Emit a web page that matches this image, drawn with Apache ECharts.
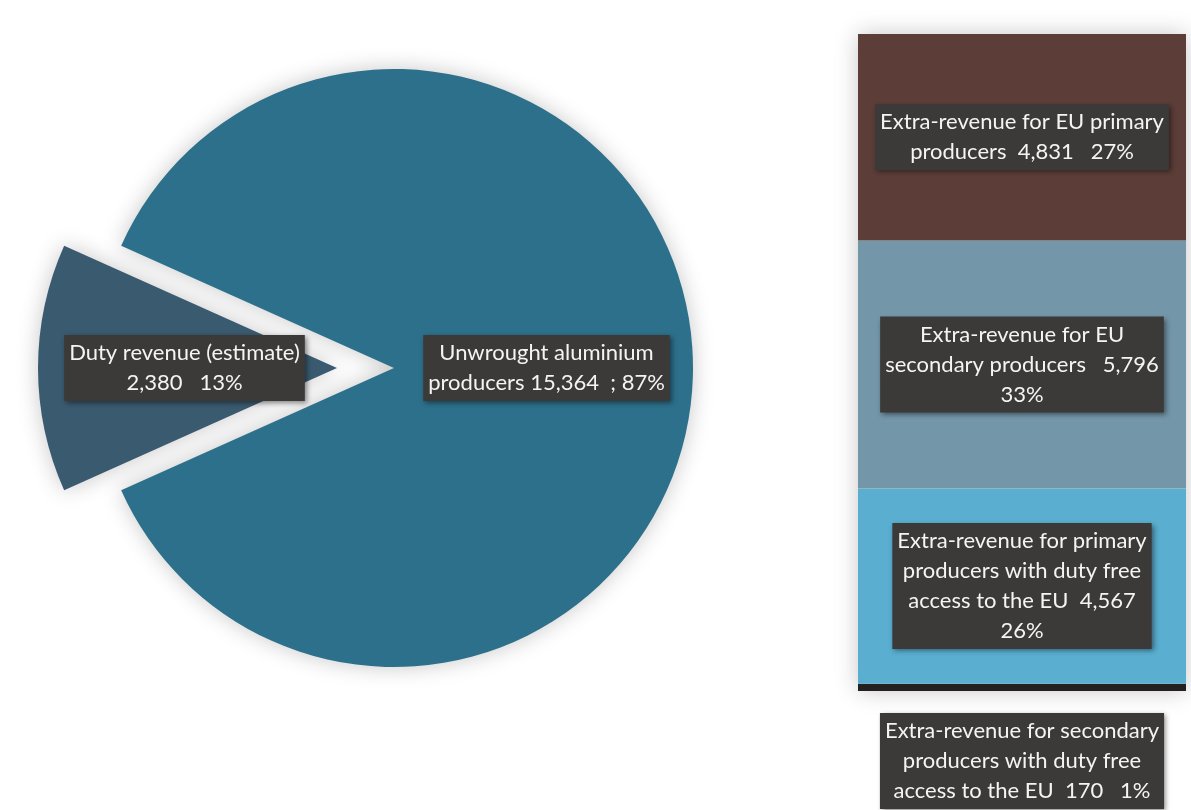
<!DOCTYPE html>
<html>
<head>
<meta charset="utf-8">
<script src="https://cdn.jsdelivr.net/npm/echarts@6/dist/echarts.min.js"></script>
<style>
  html, body { margin: 0; padding: 0; background: #fff; }
  #main { width: 1191px; height: 810px; }
</style>
</head>
<body>
<div id="main"></div>
<script>
// pie: where the money goes
var pieNames = ['Duty revenue (estimate)', 'Unwrought aluminium producers'];
var pieValues = [2380, 15364];
var pieColors = ['#3a5a70', '#2d708b'];

// column: split of the producers' extra revenue (bottom to top)
var barNames = [
    'Extra-revenue for secondary producers with duty free access to the EU',
    'Extra-revenue for primary producers with duty free access to the EU',
    'Extra-revenue for EU secondary producers',
    'Extra-revenue for EU primary producers'
];
var barValues = [170, 4567, 5796, 4831];
var barColors = ['#24201f', '#5aaed0', '#7396a8', '#5c3d38'];
// how each label breaks into lines
var barLabelLines = [
    ['Extra-revenue for secondary', 'producers with duty free', 'access to the EU  {v}   {p}%'],
    ['Extra-revenue for primary', 'producers with duty free', 'access to the EU  {v}', '{p}%'],
    ['Extra-revenue for EU', 'secondary producers   {v}', '{p}%'],
    ['Extra-revenue for EU primary', 'producers  {v}   {p}%']
];

var total = pieValues[0] + pieValues[1];
var stackTotal = 0;
barValues.forEach(function (v) { stackTotal += v; });

function fmt(n) {
    return n.toLocaleString('en-US');
}

var labelBox = {
    color: '#f4f4f4',
    fontFamily: 'Lato',
    fontSize: 22,
    lineHeight: 30,
    backgroundColor: '#3b3a39',
    padding: [3, 5, 3, 5],
    shadowColor: 'rgba(0,0,0,0.45)',
    shadowBlur: 5,
    shadowOffsetX: 2,
    shadowOffsetY: 2
};

var myChart = echarts.init(document.getElementById('main'));

var barSeries = barValues.map(function (v, i) {
    var lines = barLabelLines[i].map(function (s) {
        return s.replace('{v}', fmt(v)).replace('{p}', Math.round(v / total * 100));
    });
    return {
        name: barNames[i],
        type: 'bar',
        stack: 'rev',
        barWidth: '100%',
        showBackground: i === 0,
        backgroundStyle: {
            color: '#fff',
            shadowBlur: 22,
            shadowColor: 'rgba(0,0,0,0.22)'
        },
        itemStyle: { color: barColors[i] },
        label: Object.assign({
            show: true,
            position: i === 0 ? 'bottom' : 'inside',
            distance: 22,
            formatter: lines.join('\n')
        }, labelBox),
        data: [v]
    };
});

var option = {
    animation: false,
    backgroundColor: '#fff',
    grid: {
        left: 858,
        right: 5,
        top: 34,
        bottom: 119
    },
    xAxis: {
        type: 'category',
        data: ['revenue'],
        show: false
    },
    yAxis: {
        type: 'value',
        min: 0,
        max: stackTotal,
        show: false
    },
    series: [
        {
            type: 'pie',
            center: [394, 368],
            radius: 299,
            startAngle: 180 + pieValues[0] / total * 180,
            clockwise: true,
            selectedMode: 'single',
            selectedOffset: 57,
            emphasis: { scale: false },
            itemStyle: {
                shadowBlur: 22,
                shadowColor: 'rgba(0,0,0,0.22)'
            },
            label: Object.assign({
                show: true,
                position: 'inside',
                formatter: function (p) {
                    var pct = Math.round(p.value / total * 100);
                    if (p.dataIndex === 0) {
                        return 'Duty revenue (estimate)\n' + fmt(p.value) + '   ' + pct + '%';
                    }
                    return 'Unwrought aluminium\nproducers ' + fmt(p.value) + '  ; ' + pct + '%';
                }
            }, labelBox),
            labelLine: { show: false },
            data: pieValues.map(function (v, i) {
                return {
                    name: pieNames[i],
                    value: v,
                    selected: i === 0,
                    itemStyle: { color: pieColors[i] },
                    select: { itemStyle: { color: pieColors[i] } }
                };
            })
        }
    ].concat(barSeries)
};

myChart.setOption(option);
</script>
</body>
</html>
